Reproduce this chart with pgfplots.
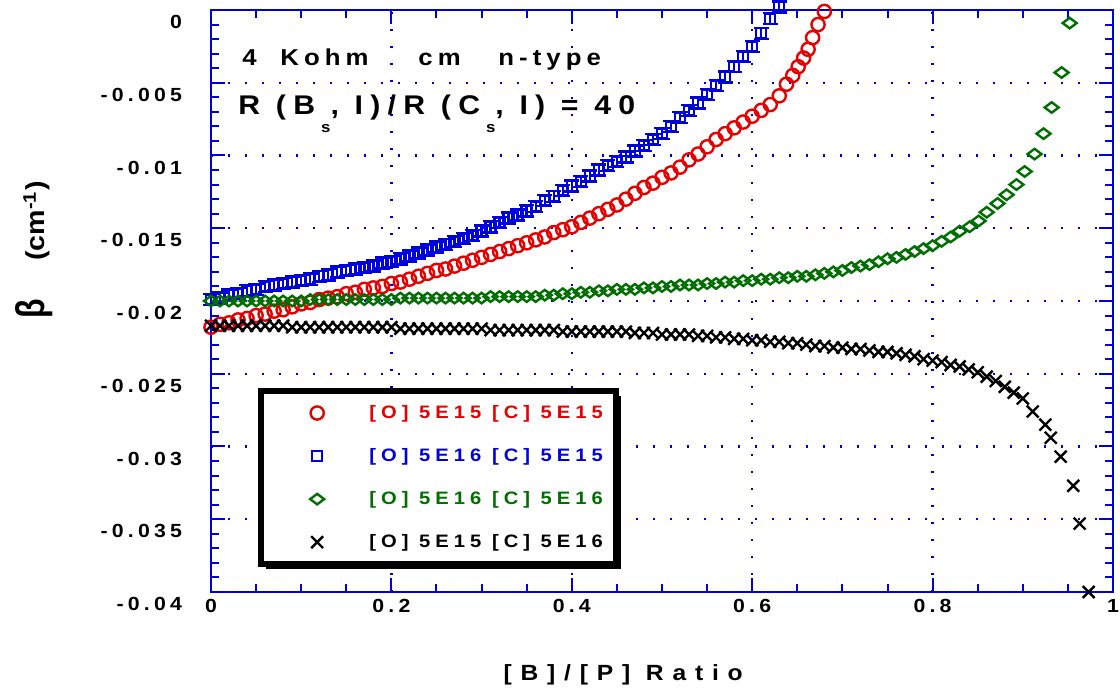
\documentclass[border=0pt]{standalone}
\usepackage{fontspec}
\setmainfont{Liberation Sans}
\usepackage{graphicx}
\usepackage{pgfplots}
\pgfplotsset{compat=1.18}
\usetikzlibrary{shadows}
\newfontfamily\tickfont[LetterSpace=22, FakeStretch=1.12]{Liberation Sans}
\newfontfamily\legfont[LetterSpace=28, FakeStretch=1.12]{Liberation Sans}
\newfontfamily\labfont[LetterSpace=40, FakeStretch=1.12]{Liberation Sans}
\newfontfamily\titleA[LetterSpace=22, FakeStretch=1.12]{Liberation Sans}
\newfontfamily\titleB[LetterSpace=27, FakeStretch=1.12]{Liberation Sans}
\newfontfamily\yfont[FakeStretch=1.1]{Liberation Sans}
\definecolor{axblue}{RGB}{0,0,220}
\definecolor{myred}{RGB}{230,0,0}
\definecolor{myblue}{RGB}{0,0,220}
\definecolor{mygreen}{RGB}{0,110,0}
\newcommand\sub{\hspace{3pt}\raisebox{-9pt}{\fontsize{7.5}{8}\selectfont s}}

\begin{document}
\begin{tikzpicture}
\useasboundingbox (-105.5pt,-52pt) rectangle (454.5pt,296pt);
\begin{axis}[
  at={(0,0)}, anchor=south west,
  scale only axis, width=451pt, height=291pt,
  xmin=0, xmax=1, ymin=-0.04, ymax=0,
  scaled x ticks=false, scaled y ticks=false,
  xtick={0,0.2,0.4,0.6,0.8,1},
  xticklabels={0,0.2,0.4,0.6,0.8,1},
  ytick={-0.04,-0.035,-0.03,-0.025,-0.02,-0.015,-0.01,-0.005,0},
  yticklabels={-0.04,-0.035,-0.03,-0.025,-0.02,-0.015,-0.01,-0.005,0},
  minor x tick num=3, minor y tick num=4,
  axis line style={axblue, line width=1pt},
  tick style={axblue, line width=1pt},
  major tick length=7pt, minor tick length=4pt,
  grid=major,
  major grid style={axblue, line width=1.2pt, dash pattern=on 1.2pt off 7.3pt},
  ticklabel style={font=\tickfont\bfseries\fontsize{9.5}{11}\selectfont},
  yticklabel style={xshift=-11pt, yshift=-6pt},
  xlabel={\mbox{[B]/[P] Ratio}},
  xlabel style={font=\labfont\bfseries\fontsize{11}{13}\selectfont, at={(rel axis cs:0.457,-0.142)}, anchor=center},
  ylabel={{\bfseries\fontsize{20}{22}\selectfont\scalebox{0.8}[1]{β}}\hspace{19pt}{\yfont\bfseries\fontsize{13}{15}\selectfont (cm\textsuperscript{-1})}},
  ylabel style={at={(rel axis cs:-0.196,0.588)}, anchor=center},
  clip=false,
  legend cell align=left,
  legend image code/.code={\path (0pt,0pt); \draw[#1] plot coordinates {(21pt,0pt)}; \path (40pt,0pt);},
  legend style={at={(axis cs:0.0521,-0.02598)}, anchor=north west,
    draw=black, line width=3pt, fill=white,
    drop shadow={shadow xshift=2.5pt, shadow yshift=-2.5pt, fill=black, opacity=1},
    font=\legfont\bfseries\fontsize{9}{11}\selectfont,
    inner xsep=6.5pt, inner ysep=7pt, row sep=13.5pt,
    nodes={inner sep=0pt},
    /tikz/every odd column/.append style={column sep=6.5pt}},
]
\addplot[only marks, mark=o, mark size=3.3pt, myred, line width=1.2pt] coordinates {
(0,-0.0218)(0.01,-0.0216)(0.02,-0.0215)(0.03,-0.0213)(0.04,-0.0212)(0.05,-0.0210)(0.06,-0.0209)(0.07,-0.0207)(0.08,-0.0206)(0.09,-0.0204)
(0.10,-0.0202)(0.11,-0.0201)(0.12,-0.0199)(0.13,-0.0198)(0.14,-0.0197)(0.15,-0.0195)(0.16,-0.0194)(0.17,-0.0192)(0.18,-0.0191)(0.19,-0.0190)
(0.20,-0.0188)(0.21,-0.0187)(0.22,-0.0185)(0.23,-0.0183)(0.24,-0.0181)(0.25,-0.0179)(0.26,-0.0178)(0.27,-0.0176)(0.28,-0.0174)(0.29,-0.0172)
(0.30,-0.0170)(0.31,-0.0168)(0.32,-0.0166)(0.33,-0.0164)(0.34,-0.0162)(0.35,-0.0160)(0.36,-0.0158)(0.37,-0.0156)(0.38,-0.0153)(0.39,-0.0151)
(0.40,-0.0149)(0.41,-0.0146)(0.42,-0.0143)(0.43,-0.0140)(0.44,-0.0137)(0.45,-0.0134)(0.46,-0.0130)(0.47,-0.0126)(0.48,-0.0122)(0.49,-0.0119)
(0.50,-0.0115)(0.51,-0.0112)(0.52,-0.0108)(0.53,-0.0103)(0.54,-0.0099)(0.55,-0.0094)(0.56,-0.0089)(0.57,-0.0085)(0.58,-0.0081)(0.59,-0.0077)
(0.60,-0.0073)(0.61,-0.0069)(0.62,-0.0065)(0.63,-0.0059)(0.638,-0.0051)(0.645,-0.0045)(0.651,-0.0039)(0.657,-0.0033)(0.662,-0.0027)
(0.667,-0.0019)(0.673,-0.0010)(0.680,-0.0001)
};
\addlegendentry{\textcolor{myred}{[O] 5E15 [C] 5E15}}
\addplot[only marks, mark=square, mark size=2.5pt, myblue, line width=1.2pt,
  error bars/.cd, y dir=both, y fixed=0.00038,
  error bar style={myblue, line width=1.2pt},
  error mark options={rotate=90, myblue, mark size=3.8pt, line width=1.2pt}] coordinates {
(0,-0.0199)(0.01,-0.0198)(0.02,-0.0196)(0.03,-0.0195)(0.04,-0.0193)(0.05,-0.0192)(0.06,-0.0190)(0.07,-0.0189)(0.08,-0.0188)(0.09,-0.0187)
(0.10,-0.0186)(0.11,-0.0185)(0.12,-0.0183)(0.13,-0.0182)(0.14,-0.0180)(0.15,-0.0179)(0.16,-0.0178)(0.17,-0.0177)(0.18,-0.0176)(0.19,-0.0174)
(0.20,-0.0173)(0.21,-0.0171)(0.22,-0.0169)(0.23,-0.0167)(0.24,-0.0165)(0.25,-0.0163)(0.26,-0.0161)(0.27,-0.0159)(0.28,-0.0157)(0.29,-0.0155)
(0.30,-0.0152)(0.31,-0.0149)(0.32,-0.0146)(0.33,-0.0143)(0.34,-0.0141)(0.35,-0.0138)(0.36,-0.0135)(0.37,-0.0131)(0.38,-0.0128)(0.39,-0.0124)
(0.40,-0.0121)(0.41,-0.0118)(0.42,-0.0114)(0.43,-0.0110)(0.44,-0.0107)(0.45,-0.0104)(0.46,-0.0101)(0.47,-0.0097)(0.48,-0.0093)(0.49,-0.0089)
(0.50,-0.0085)(0.51,-0.0080)(0.52,-0.0074)(0.53,-0.0069)(0.54,-0.0064)(0.55,-0.0058)(0.56,-0.0052)(0.57,-0.0046)(0.58,-0.0039)(0.59,-0.0032)
(0.60,-0.0025)(0.61,-0.0016)(0.62,-0.0006)(0.63,0.0002)
};
\addlegendentry{\textcolor{myblue}{[O] 5E16 [C] 5E15}}
\addplot[only marks, mark=diamond, mark size=3.5pt, mark options={rotate=90}, mygreen, line width=1.2pt] coordinates {
(0,-0.0200)(0.01,-0.0200)(0.02,-0.0200)(0.03,-0.0200)(0.04,-0.0200)(0.05,-0.0200)(0.06,-0.0200)(0.07,-0.0200)(0.08,-0.0200)(0.09,-0.0200)
(0.10,-0.0200)(0.11,-0.0199)(0.12,-0.0199)(0.13,-0.0199)(0.14,-0.0199)(0.15,-0.0199)(0.16,-0.0199)(0.17,-0.0199)(0.18,-0.0199)(0.19,-0.0199)
(0.20,-0.0199)(0.21,-0.0198)(0.22,-0.0198)(0.23,-0.0198)(0.24,-0.0198)(0.25,-0.0198)(0.26,-0.0198)(0.27,-0.0198)(0.28,-0.0198)(0.29,-0.0198)
(0.30,-0.0198)(0.31,-0.0197)(0.32,-0.0197)(0.33,-0.0197)(0.34,-0.0197)(0.35,-0.0197)(0.36,-0.0197)(0.37,-0.0196)(0.38,-0.0196)(0.39,-0.0195)
(0.40,-0.0195)(0.41,-0.0194)(0.42,-0.0194)(0.43,-0.0193)(0.44,-0.0193)(0.45,-0.0192)(0.46,-0.0192)(0.47,-0.0192)(0.48,-0.0191)(0.49,-0.0191)
(0.50,-0.0190)(0.51,-0.0190)(0.52,-0.0189)(0.53,-0.0189)(0.54,-0.0189)(0.55,-0.0188)(0.56,-0.0188)(0.57,-0.0187)(0.58,-0.0187)(0.59,-0.0186)
(0.60,-0.0186)(0.61,-0.0185)(0.62,-0.0185)(0.63,-0.0184)(0.64,-0.0184)(0.65,-0.0183)(0.66,-0.0183)(0.67,-0.0182)(0.68,-0.0181)(0.69,-0.0180)
(0.70,-0.0179)(0.71,-0.0177)(0.72,-0.0176)(0.73,-0.0175)(0.74,-0.0173)(0.75,-0.0171)(0.76,-0.0170)(0.77,-0.0168)(0.78,-0.0166)(0.79,-0.0164)
(0.80,-0.0162)(0.81,-0.0159)(0.82,-0.0156)(0.83,-0.0152)(0.841,-0.0149)(0.851,-0.0145)(0.860,-0.0139)(0.872,-0.0133)(0.882,-0.0127)
(0.893,-0.0120)(0.902,-0.0111)(0.913,-0.0099)(0.923,-0.0085)(0.932,-0.0067)(0.943,-0.0043)(0.952,-0.0009)
};
\addlegendentry{\textcolor{mygreen}{[O] 5E16 [C] 5E16}}
\addplot[only marks, mark=x, mark size=4.2pt, black, line width=1.2pt] coordinates {
(0,-0.0217)(0.01,-0.0217)(0.02,-0.0217)(0.03,-0.0217)(0.04,-0.0217)(0.05,-0.0217)(0.06,-0.0217)(0.07,-0.0217)(0.08,-0.0217)(0.09,-0.0218)
(0.10,-0.0218)(0.11,-0.0218)(0.12,-0.0218)(0.13,-0.0218)(0.14,-0.0218)(0.15,-0.0218)(0.16,-0.0218)(0.17,-0.0218)(0.18,-0.0218)(0.19,-0.0218)
(0.20,-0.0218)(0.21,-0.0219)(0.22,-0.0219)(0.23,-0.0219)(0.24,-0.0219)(0.25,-0.0219)(0.26,-0.0219)(0.27,-0.0219)(0.28,-0.0219)(0.29,-0.0219)
(0.30,-0.0219)(0.31,-0.0220)(0.32,-0.0220)(0.33,-0.0220)(0.34,-0.0220)(0.35,-0.0220)(0.36,-0.0220)(0.37,-0.0220)(0.38,-0.0220)(0.39,-0.0221)
(0.40,-0.0221)(0.41,-0.0221)(0.42,-0.0221)(0.43,-0.0221)(0.44,-0.0221)(0.45,-0.0221)(0.46,-0.0221)(0.47,-0.0222)(0.48,-0.0222)(0.49,-0.0222)
(0.50,-0.0223)(0.51,-0.0223)(0.52,-0.0223)(0.53,-0.0223)(0.54,-0.0224)(0.55,-0.0224)(0.56,-0.0225)(0.57,-0.0225)(0.58,-0.0226)(0.59,-0.0226)
(0.60,-0.0227)(0.61,-0.0227)(0.62,-0.0228)(0.63,-0.0228)(0.64,-0.0229)(0.65,-0.0229)(0.66,-0.0230)(0.67,-0.0231)(0.68,-0.0231)(0.69,-0.0232)
(0.70,-0.0232)(0.71,-0.0233)(0.72,-0.0233)(0.73,-0.0234)(0.74,-0.0235)(0.75,-0.0235)(0.76,-0.0236)(0.77,-0.0237)(0.78,-0.0238)(0.79,-0.0240)
(0.80,-0.0241)(0.81,-0.0242)(0.82,-0.0244)(0.83,-0.0245)(0.84,-0.0247)(0.85,-0.0249)(0.86,-0.0252)(0.87,-0.0255)(0.88,-0.0259)(0.89,-0.0263)
(0.90,-0.0267)(0.911,-0.0276)(0.925,-0.0285)(0.931,-0.0294)(0.942,-0.0307)(0.956,-0.0327)(0.963,-0.0353)(0.973,-0.0400)
};
\addlegendentry{\textcolor{black}{[O] 5E15 [C] 5E16}}
\begin{scope}[every node/.style={anchor=base west, inner sep=0pt, font=\titleA\bfseries\fontsize{11.5}{13}\selectfont}]
\node at (rel axis cs:0.0344,0.904) {4};
\node at (rel axis cs:0.0765,0.904) {Kohm};
\node at (rel axis cs:0.2295,0.904) {cm};
\node at (rel axis cs:0.3182,0.904) {n-type};
\end{scope}
\node[anchor=base west, inner sep=0pt, font=\titleB\bfseries\fontsize{13.5}{15}\selectfont] at (rel axis cs:0.030,0.8196) {R (B\sub, I)/R (C\sub, I) = 40};
\end{axis}
\end{tikzpicture}
\end{document}
